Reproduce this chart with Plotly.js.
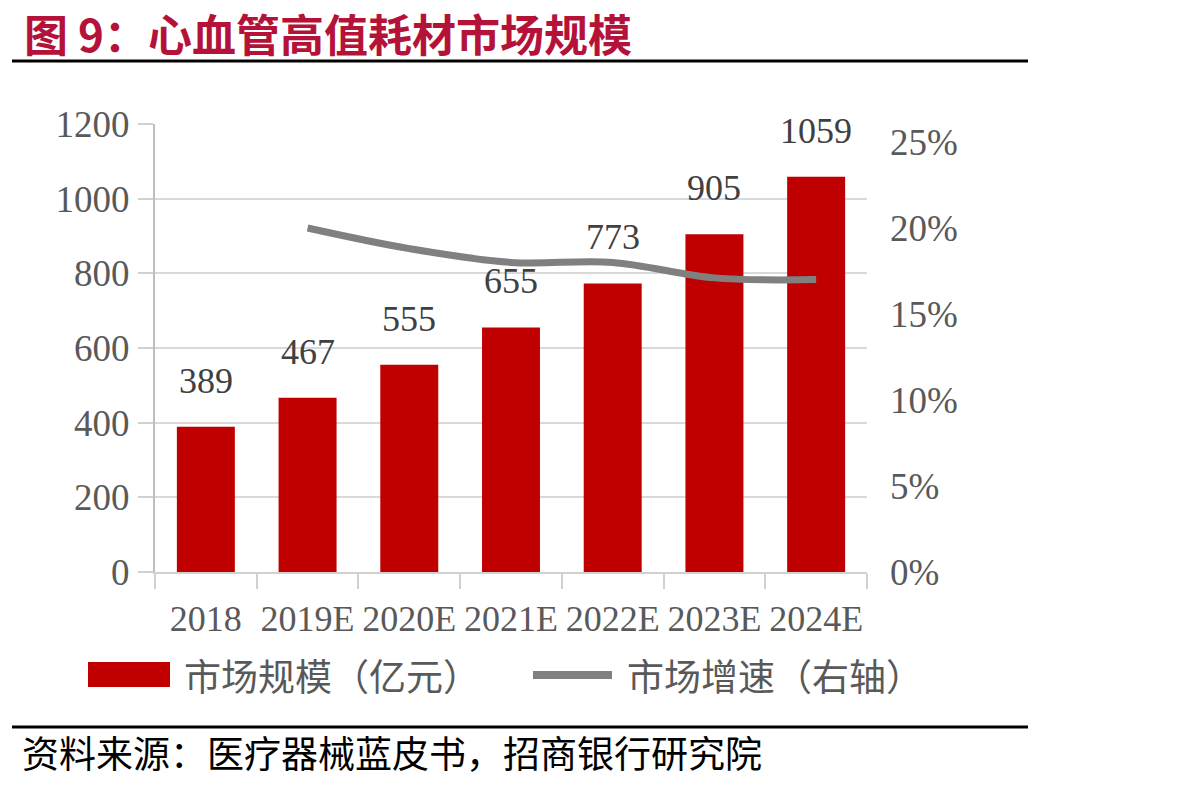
<!DOCTYPE html>
<html>
<head>
<meta charset="utf-8">
<script src="https://cdn.plot.ly/plotly-3.0.1.min.js"></script>
<style>
  html, body { margin: 0; padding: 0; background: #fff; }
  #chart { width: 1185px; height: 787px; }
</style>
</head>
<body>
<div id="chart"></div>
<script>
// Cardiovascular high-value consumables: market size (100M CNY) and growth rate
const years = ['2018', '2019E', '2020E', '2021E', '2022E', '2023E', '2024E'];
const marketSize = [389, 467, 555, 655, 773, 905, 1059];
const growthYears = ['2019E', '2020E', '2021E', '2022E', '2023E', '2024E'];
const growthRate = [0.200, 0.188, 0.180, 0.180, 0.171, 0.170];
const leftTicks = [0, 200, 400, 600, 800, 1000, 1200];
const rightTicks = [0, 0.05, 0.10, 0.15, 0.20, 0.25];
const rightTickText = ['0%', '5%', '10%', '15%', '20%', '25%'];

const W = 1185, H = 787;
const M = { l: 155, r: 318, t: 124, b: 215 };
const PW = W - M.l - M.r, PH = H - M.t - M.b;
// pixel -> paper coordinates
const px = x => (x - M.l) / PW;
const py = y => (H - M.b - y) / PH;

const SERIF = '"Liberation Serif", "Times New Roman", serif';
const CJK = '"Noto Sans CJK SC", sans-serif';
const RED = '#C00000';
const GREY = '#808080';
const TXT = '#595959';

const bars = {
  type: 'bar', x: years, y: marketSize, name: '市场规模（亿元）',
  marker: { color: RED }, hoverinfo: 'x+y'
};
const line = {
  type: 'scatter', mode: 'lines', x: growthYears, y: growthRate, yaxis: 'y2',
  name: '市场增速（右轴）',
  line: { color: GREY, width: 7, shape: 'spline', smoothing: 1 }
};

// value labels above each bar (category axis positions are category indices)
const valueLabels = years.map((c, i) => ({
  x: i, y: marketSize[i], xref: 'x', yref: 'y', text: String(marketSize[i]),
  showarrow: false, yanchor: 'bottom', yshift: 24,
  font: { family: SERIF, size: 36, color: '#404040' }
}));

const layout = {
  width: W, height: H, margin: M,
  paper_bgcolor: '#fff', plot_bgcolor: '#fff',
  showlegend: false, bargap: 0.43,
  font: { family: SERIF, color: TXT },
  xaxis: {
    type: 'category', categoryorder: 'array', categoryarray: years,
    range: [-0.5, years.length - 0.5],
    tickson: 'boundaries', ticks: 'outside', ticklen: 15,
    tickwidth: 2, tickcolor: '#D0D0D0', showline: true, linecolor: '#D0D0D0',
    linewidth: 2, showgrid: false, ticklabelstandoff: 14, tickangle: 0,
    tickfont: { family: SERIF, size: 36, color: TXT }
  },
  yaxis: {
    range: [0, 1200], tickvals: leftTicks, ticks: 'outside', ticklen: 15,
    tickwidth: 2, tickcolor: '#D0D0D0', showline: true, linecolor: '#BFBFBF',
    linewidth: 2, showgrid: true, gridcolor: '#D9D9D9', gridwidth: 2,
    zeroline: false, ticklabelstandoff: 1,
    tickfont: { family: SERIF, size: 37, color: TXT }
  },
  yaxis2: {
    overlaying: 'y', side: 'right', anchor: 'x',
    range: [0, 0.25 * PH / 430], tickvals: rightTicks, ticktext: rightTickText,
    showgrid: false, showline: false, zeroline: false, ticks: '',
    ticklabelstandoff: 22,
    tickfont: { family: SERIF, size: 37, color: TXT }
  },
  shapes: [
    // rule under heading
    { type: 'line', xref: 'paper', yref: 'paper', x0: px(12), x1: px(1028), y0: py(61), y1: py(61),
      line: { color: '#000', width: 3 } },
    // rule above source note
    { type: 'line', xref: 'paper', yref: 'paper', x0: px(12), x1: px(1028), y0: py(727), y1: py(727),
      line: { color: '#000', width: 3 } },
    // legend swatches
    { type: 'rect', xref: 'paper', yref: 'paper', x0: px(88), x1: px(170), y0: py(662), y1: py(687),
      fillcolor: RED, line: { width: 0 } },
    { type: 'line', xref: 'paper', yref: 'paper', x0: px(533), x1: px(612), y0: py(675), y1: py(675),
      line: { color: GREY, width: 8 } }
  ],
  annotations: valueLabels.concat([
    { xref: 'paper', yref: 'paper', x: px(22), y: py(33), xanchor: 'left', yanchor: 'middle',
      text: '<b>图 9：心血管高值耗材市场规模</b>', showarrow: false,
      font: { family: CJK, size: 44, color: '#B5123A' } },
    { xref: 'paper', yref: 'paper', x: px(182), y: py(675), xanchor: 'left', yanchor: 'middle',
      text: '市场规模（亿元）', showarrow: false,
      font: { family: CJK, size: 37, color: TXT } },
    { xref: 'paper', yref: 'paper', x: px(625), y: py(675), xanchor: 'left', yanchor: 'middle',
      text: '市场增速（右轴）', showarrow: false,
      font: { family: CJK, size: 37, color: TXT } },
    { xref: 'paper', yref: 'paper', x: px(20), y: py(752), xanchor: 'left', yanchor: 'middle',
      text: '资料来源：医疗器械蓝皮书，招商银行研究院', showarrow: false,
      font: { family: CJK, size: 37, color: '#000' } }
  ])
};

Plotly.newPlot('chart', [bars, line], layout, { displayModeBar: false, responsive: false });
</script>
</body>
</html>
